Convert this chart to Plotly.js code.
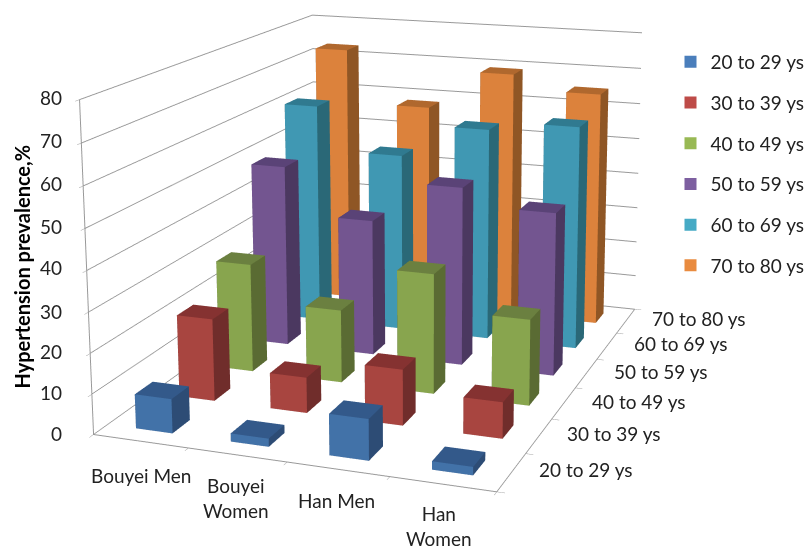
<!DOCTYPE html>
<html><head><meta charset="utf-8">
<script src="https://cdn.plot.ly/plotly-3.0.1.min.js"></script>
<style>html,body{margin:0;padding:0;background:#fff;overflow:hidden;width:810px;height:546px}#wrap{position:relative;width:810px;height:546px;overflow:hidden}#c{position:absolute}</style>
</head><body><div id="wrap"><div id="c"></div></div>
<script>
var categories = ["Bouyei Men","Bouyei<br>Women","Han Men","Han<br>Women"];
var seriesNames = ["20 to 29 ys","30 to 39 ys","40 to 49 ys","50 to 59 ys","60 to 69 ys","70 to 80 ys"];
var zTicks = [0,10,20,30,40,50,60,70,80];
var v20 = [8.5,2,10,2];
var v30 = [21,9,14,9];
var v40 = [28.5,19,31,22];
var v50 = [49,36.5,47.5,43];
var v60 = [61,49,58,60.5];
var v70 = [73,58,69,65];
var allValues = [v20,v30,v40,v50,v60,v70];
var front = ["#4272A8","#A84540","#88A54E","#735590","#4098B3","#DC823C"];
var topc  = ["#33598A","#853231","#6B8040","#5A4377","#307A90","#B0682E"];
var side  = ["#2D4C75","#702D2B","#5A6B33","#4B3860","#2A6877","#8F5625"];
var legendc = ["#4A7EBB","#BE4B48","#98B954","#7D5FA0","#46AAC5","#E98B3F"];
var w = 0.195, d = 0.2;
var k = 2.7, W = Math.round(810*k), H = Math.round(546*k);
var cx = 425, cy = 127;
var left = cx - W/2, topp = cy - H/2;
var el = document.getElementById("c");
el.style.left = left+"px"; el.style.top = topp+"px"; el.style.width = W+"px"; el.style.height = H+"px";
function px(x){return (x-left)/W;}
function py(y){return 1-(y-topp)/H;}
var traces = [];
allValues.forEach(function(vals,s){
  var X=[],Y=[],Z=[],I=[],J=[],K=[],F=[];
  vals.forEach(function(h,c){
    var b=X.length;
    var x0=c+0.5-w,x1=c+0.5+w,y0=s+0.5-d,y1=s+0.5+d;
    X.push(x0,x1,x1,x0,x0,x1,x1,x0);
    Y.push(y0,y0,y1,y1,y0,y0,y1,y1);
    Z.push(0,0,0,0,h,h,h,h);
    var q=function(a,b2,c2,e,col){I.push(b+a,b+a);J.push(b+b2,b+c2);K.push(b+c2,b+e);F.push(col,col);};
    q(0,1,5,4,front[s]); q(1,2,6,5,side[s]); q(4,5,6,7,topc[s]);
    q(3,2,6,7,side[s]); q(0,3,7,4,side[s]); q(0,1,2,3,side[s]);
  });
  traces.push({type:"mesh3d",name:seriesNames[s],x:X,y:Y,z:Z,i:I,j:J,k:K,facecolor:F,flatshading:true,
    lighting:{ambient:1,diffuse:0,specular:0,roughness:1,fresnel:0},showlegend:false,hoverinfo:"skip"});
  traces.push({type:"scatter",mode:"markers",name:seriesNames[s],x:[null],y:[null],legendgroup:"g"+s,showlegend:true,
    marker:{symbol:"square",size:12,color:legendc[s]},hoverinfo:"skip"});
});
var F1 = {family:"Lato",size:19,color:"#222"};
var ann = [];
var zY = [433,392,351,311,268,226,183,141,97];
zTicks.forEach(function(t,i){ann.push({xref:"paper",yref:"paper",x:px(63),y:py(zY[i]),xanchor:"right",yanchor:"middle",text:String(t),showarrow:false,font:F1});});
var catPos = [[140,475],[235,498],[336,500],[438,526]];
categories.forEach(function(t,i){ann.push({xref:"paper",yref:"paper",x:px(catPos[i][0]),y:py(catPos[i][1]),xanchor:"center",yanchor:"middle",text:t,showarrow:false,font:F1,align:"center"});});
var serPos = [[536,469],[564,433],[589,401],[611,371],[631,343],[649,318]];
seriesNames.forEach(function(t,i){ann.push({xref:"paper",yref:"paper",x:px(serPos[i][0]),y:py(serPos[i][1]),xanchor:"left",yanchor:"middle",text:t,showarrow:false,font:F1});});
ann.push({xref:"paper",yref:"paper",x:px(21),y:py(267),xanchor:"center",yanchor:"middle",textangle:-90,text:"<b>Hypertension prevalence,%</b>",showarrow:false,font:{family:"Lato",size:20,color:"#000"}});
var axcol="#999";
var layout = {
  width:W,height:H,margin:{l:0,r:0,t:0,b:0},paper_bgcolor:"#fff",plot_bgcolor:"rgba(0,0,0,0)",showlegend:true,
  legend:{x:px(670),y:py(43),xanchor:"left",yanchor:"top",font:F1,tracegroupgap:13,traceorder:"grouped",bgcolor:"rgba(0,0,0,0)"},
  xaxis:{visible:false,domain:[0,0.01]},yaxis:{visible:false,domain:[0,0.01]},
  annotations:ann,
  scene:{
    domain:{x:[0,1],y:[0,1]},
    aspectmode:"manual",aspectratio:{x:0.906,y:1.234,z:0.734},
    camera:{eye:{x:1.410,y:-3.778,z:1.087},center:{x:0.0628,y:0.0692,z:0.2062},up:{x:0,y:0,z:1},projection:{type:"perspective"}},
    xaxis:{range:[0,4],tickvals:[0,1,2,3,4],showticklabels:false,showgrid:false,showline:true,linecolor:axcol,linewidth:2,zeroline:false,title:{text:""},showbackground:false,ticks:"outside",ticklen:6,tickcolor:axcol},
    yaxis:{range:[0,6],tickvals:[0,1,2,3,4,5,6],showticklabels:false,showgrid:false,showline:true,linecolor:axcol,linewidth:2,zeroline:false,title:{text:""},showbackground:false,ticks:"outside",ticklen:6,tickcolor:axcol},
    zaxis:{range:[0,80],tickvals:zTicks,showticklabels:false,gridcolor:"#999",gridwidth:2,showline:true,linecolor:axcol,linewidth:2,zeroline:false,title:{text:""},showbackground:false,ticks:"outside",ticklen:6,tickcolor:axcol}
  }
};
Plotly.newPlot("c",traces,layout,{displayModeBar:false});
</script></body></html>
